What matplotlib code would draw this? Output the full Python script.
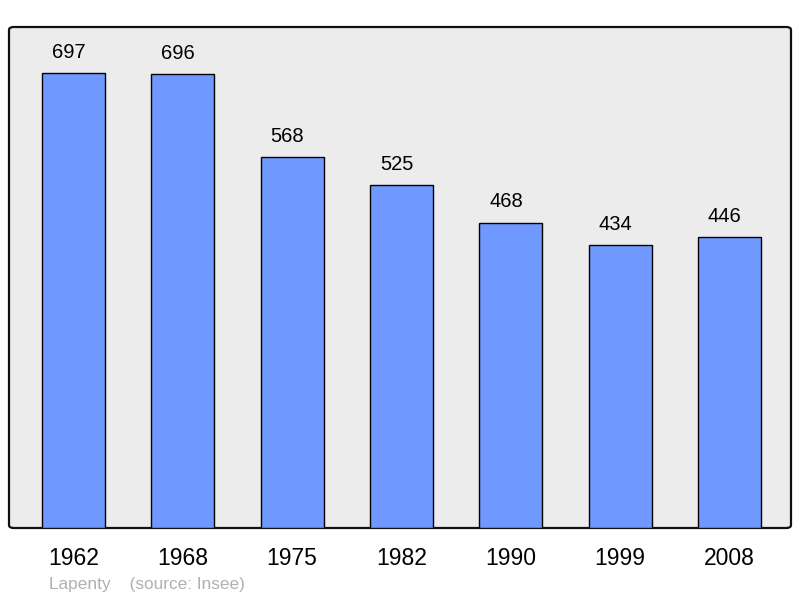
import matplotlib
matplotlib.use("Agg")
import matplotlib.pyplot as plt
from matplotlib.patches import FancyBboxPatch

years = ["1962", "1968", "1975", "1982", "1990", "1999", "2008"]
population = [697, 696, 568, 525, 468, 434, 446]

plt.rcParams['font.family'] = ['Liberation Sans', 'DejaVu Sans']

fig = plt.figure(figsize=(8.0, 5.98), dpi=100)
W, H = 800, 598
ax = fig.add_axes([9 / W, 1 - 528 / H, 782 / W, 501 / H])
ax.set_facecolor('none')
frame = FancyBboxPatch((0, 0), 1, 1, boxstyle="round,pad=0,rounding_size=0.006",
                       transform=ax.transAxes, facecolor='#ececec', edgecolor='#111111',
                       linewidth=1.6, zorder=0, clip_on=False)
ax.add_patch(frame)

x = list(range(len(years)))
bars = ax.bar(x, population, width=0.576, color='#7099ff', edgecolor='#000000',
              linewidth=1.0, zorder=2)
for xi, v in zip(x, population):
    ax.annotate(str(v), (xi, v), xytext=(-3.5, 8), textcoords='offset points',
                ha='center', va='bottom', fontsize=14.5, color='#000000')

ax.set_xlim(-0.59, 6.563)
ax.set_ylim(0, 767.5)
ax.set_yticks([])
ax.set_xticks(x)
ax.set_xticklabels(years, fontsize=16.5)
ax.tick_params(axis='x', length=0, pad=14)
for s in ax.spines.values():
    s.set_visible(False)

fig.text(49 / W, 1 - 584 / H, "Lapenty    (source: Insee)", fontsize=12.4, color='#b0b0b0',
         ha='left', va='center')

fig.savefig("out.png", dpi=100)
